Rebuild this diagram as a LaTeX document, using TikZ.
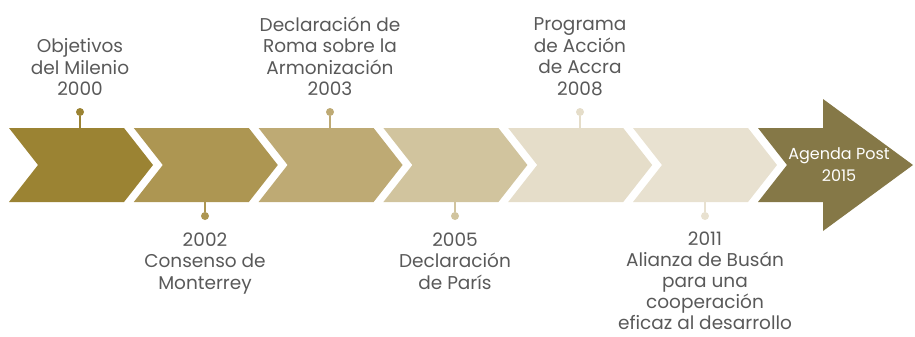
\documentclass[tikz,border=0pt]{standalone}
\usepackage{fontspec}
\setmainfont{Poppins}
\usepackage{xcolor}
\usetikzlibrary{positioning}
\definecolor{goldA}{HTML}{9B8333}
\definecolor{goldB}{HTML}{AD9652}
\definecolor{goldC}{HTML}{BEAA74}
\definecolor{goldD}{HTML}{D1C49E}
\definecolor{goldE}{HTML}{E5DDC9}
\definecolor{goldF}{HTML}{E8E1D0}
\definecolor{goldArrow}{HTML}{857847}
\definecolor{textgray}{HTML}{595959}
\tikzset{every picture/.style={font issue=\fontsize{18.5}{21.5}\selectfont},
         font issue/.style={execute at begin picture={#1}},
         label text/.style={align=center, text=textgray, inner sep=0pt},
         stem dot/.style={circle, fill=#1, inner sep=0pt, minimum size=8pt},
         stem/.style={#1, line width=2.2pt}
        }
\begin{document}
\begin{tikzpicture}[x=1pt, y=-1pt, node distance = 12pt]
\useasboundingbox (0,0) rectangle (915,337);
%chevrons
\foreach \i/\col in {0/goldA,1/goldB,2/goldC,3/goldD,4/goldE,5/goldF}{
  \fill[\col, xshift=\i*124.8pt] (9,128) -- ++(115,0) -- ++(29,37) -- ++(-29,37)
    -- ++(-115,0) -- ++(29,-37) -- cycle;
}
%final arrow
\fill[goldArrow] (758,128) -- (823,128) -- (823,99) -- (913,165) -- (823,231)
  -- (823,202) -- (758,202) -- (787,165) -- cycle;
\node[text=white, align=center, inner sep=0pt, font=\fontsize{16}{22}\selectfont] (post) at (839,165) {Agenda Post\\2015};

%stem ends on the chevrons
\coordinate (top1) at (80,128);
\coordinate (bot2) at (205,202);
\coordinate (top3) at (330,128);
\coordinate (bot4) at (455,202);
\coordinate (top5) at (580,128);
\coordinate (bot6) at (705,202);

%dots
\node[stem dot=goldA] (dot1) at (80,112) {};
\node[stem dot=goldB] (dot2) at (205,216) {};
\node[stem dot=goldC] (dot3) at (330,112) {};
\node[stem dot=goldD] (dot4) at (455,216) {};
\node[stem dot=goldE] (dot5) at (580,112) {};
\node[stem dot=goldF] (dot6) at (705,216) {};

%labels
\node[label text, above = of dot1] (obj) {Objetivos\\del Milenio\\2000};
\node[label text, below = of dot2] (monterrey) {2002\\Consenso de\\Monterrey};
\node[label text, above = of dot3] (roma) {Declaración de\\Roma sobre la\\Armonización\\2003};
\node[label text, below = of dot4] (paris) {2005\\Declaración\\de París};
\node[label text, above = of dot5] (accra) {Programa\\de Acción\\de Accra\\2008};
\node[label text, below = 11pt of dot6, font=\fontsize{18.5}{21}\selectfont] (busan) {2011\\Alianza de Busán\\para una\\cooperación\\eficaz al desarrollo};

%lines
\draw[stem=goldA] (dot1) -- (top1);
\draw[stem=goldB] (dot2) -- (bot2);
\draw[stem=goldC] (dot3) -- (top3);
\draw[stem=goldD] (dot4) -- (bot4);
\draw[stem=goldE] (dot5) -- (top5);
\draw[stem=goldF] (dot6) -- (bot6);
\end{tikzpicture}
\end{document}
